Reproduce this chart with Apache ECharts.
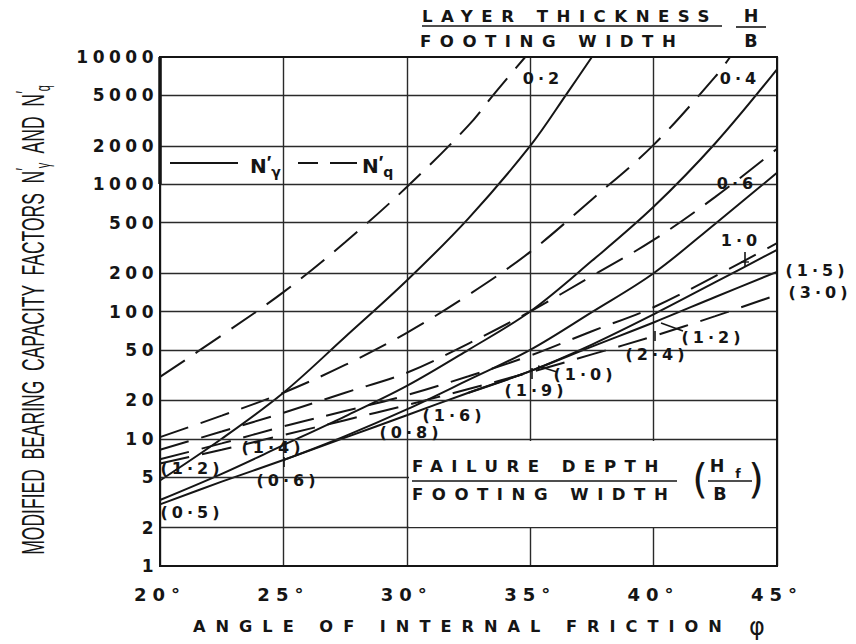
<!DOCTYPE html>
<html><head><meta charset="utf-8">
<script src="https://cdn.jsdelivr.net/npm/echarts@6/dist/echarts.min.js"></script>
<style>
html,body{margin:0;padding:0;background:#fff;}
#c{width:856px;height:644px;}
#c [style*="17px"]{letter-spacing:4.5px;}
#c [style*="18px"]{letter-spacing:6px;}
#c [style*="16px"]{letter-spacing:4px;}
#c [style*="16.2px"]{letter-spacing:10px;}
#c [style*="16.6px"]{letter-spacing:8.5px;}
</style></head>
<body><div id="c"></div>
<script>
// ---- data ----
const angleTicks = [20, 25, 30, 35, 40, 45];
const factorTicks = [1, 2, 5, 10, 20, 50, 100, 200, 500, 1000, 2000, 5000, 10000];

// N'gamma (solid), [angle, factor]
const nGamma_02 = [[20,4.7],[22.5,10],[25,23],[27.5,63],[30,175],[32.5,540],[35,2000],[36.5,5200],[37.5,10000]];
const nGamma_04 = [[20,3.3],[22.5,5.3],[25,8.9],[27.5,15],[30,26],[32.5,50],[35,100],[37.5,250],[40,665],[42.5,2100],[45,8000]];
const nGamma_06 = [[25,6.8],[27.5,10.5],[30,17],[32.5,29],[35,50],[37.5,99],[40,200],[42.5,490],[45,1230]];
const nGamma_10 = [[32.5,23],[35,34],[37.5,55],[40,95],[42.5,170],[45,305]];
const nGamma_hom = [[20,3.05],[22.5,4.6],[25,6.8],[27.5,10.2],[30,15.3],[32.5,23],[35,34],[37.5,53],[40,82],[42.5,130],[45,205]];
// N'q (dashed)
const nq_02 = [[20,30.6],[22.5,65],[25,142],[27.5,350],[30,950],[32.5,2900],[33.6,5300],[34.8,10000]];
const nq_04 = [[20,10.3],[22.5,15.2],[25,23],[27.5,38],[30,68],[32.5,135],[35,294],[37.5,760],[40,2040],[42.5,7000],[43.1,10000]];
const nq_06 = [[20,8.2],[22.5,11.4],[25,16],[27.5,23],[30,33],[32.5,56],[35,100],[37.5,190],[40,365],[42.5,795],[45,1900]];
const nq_10 = [[20,6.9],[22.5,9.2],[25,12.5],[27.5,16.5],[30,22],[32.5,31],[35,45],[37.5,70],[40,108],[42.5,190],[45,344]];
const nq_hom = [[20,6.4],[22.5,8.2],[25,10.7],[27.5,14],[30,18.4],[32.5,24.6],[35,33.3],[37.5,46],[40,64],[42.5,92],[45,135]];

const INK = '#151515';
const chart = echarts.init(document.getElementById('c'), null, {renderer: 'svg'});

function curve(name, data, dashed) {
  return {type: 'line', name, data, smooth: 0.35, symbol: 'none', silent: true,
    lineStyle: {color: INK, width: 2, type: dashed ? [30, 13] : 'solid'}, z: 3};
}
function T(x, y, text, size, extra) {
  return {type: 'text', x, y, z: 102, silent: true,
    style: Object.assign({text, fontSize: size, fontWeight: 'bold', fontFamily: 'DejaVu Sans', fill: INK,
      align: 'center', verticalAlign: 'middle', textAlign: 'center', textVerticalAlign: 'middle'}, extra || {})};
}
function L(x1, y1, x2, y2, w) {
  return {type: 'line', z: 102, silent: true, shape: {x1, y1, x2, y2},
    style: {stroke: INK, lineWidth: w || 2}};
}
const left = {align: 'left', textAlign: 'left'};
const legendRich = {
  n: {fontSize: 20, fontWeight: 'bold', fontFamily: 'DejaVu Sans', fill: INK, lineHeight: 26},
  p: {fontSize: 19, fontWeight: 'bold', fontFamily: 'Liberation Sans', fill: INK, verticalAlign: 'top', lineHeight: 26},
  s: {fontSize: 14, fontWeight: 'bold', fontFamily: 'DejaVu Sans', fill: INK, verticalAlign: 'bottom', lineHeight: 26}
};

const graphics = [
  // failure depth box (white)
  {type: 'rect', z: 100, silent: true, shape: {x: 409, y: 441, width: 367, height: 86}, style: {fill: '#fff', stroke: null}},
  // frame
  {type: 'rect', z: 101, silent: true, shape: {x: 160, y: 57, width: 617, height: 509}, style: {fill: null, stroke: INK, lineWidth: 2}},
  L(160, 57, 160, 184, 3.5),
  // header
  T(422, 16, 'LAYER THICKNESS', 16.6, left),
  T(420, 41, 'FOOTING WIDTH', 16.6, left),
  L(422, 26, 722, 26, 1.6),
  T(751, 16, 'H', 17.5),
  L(736, 27, 766, 27, 1.6),
  T(751, 41, 'B', 17.5),
  // legend
  L(170, 163, 238, 163, 2),
  {type: 'text', x: 250, y: 166, z: 102, silent: true,
    style: {text: '{n|N}{p|′}{s|γ}', rich: legendRich, fill: INK, align: 'left', textAlign: 'left', verticalAlign: 'middle', textVerticalAlign: 'middle'}},
  L(298, 163, 318, 163, 2),
  L(330, 163, 357, 163, 2),
  {type: 'text', x: 362, y: 166, z: 102, silent: true,
    style: {text: '{n|N}{p|′}{s|q}', rich: legendRich, fill: INK, align: 'left', textAlign: 'left', verticalAlign: 'middle', textVerticalAlign: 'middle'}},
  // curve labels
  T(543, 78, '0·2', 16),
  T(740, 78, '0·4', 16),
  T(737, 183, '0·6', 16),
  T(741, 240, '1·0', 16),
  L(745, 252, 745, 266, 1.6), L(741, 262, 749, 262, 1.4),
  T(817, 270, '(1·5)', 16),
  T(820, 292, '(3·0)', 16),
  T(713, 337, '(1·2)', 16),
  L(661, 323, 683, 331, 1.4),
  T(657, 354, '(2·4)', 16),
  L(655, 331, 655, 341, 1.6),
  T(585, 374, '(1·0)', 16),
  L(538, 366, 557, 372, 1.4),
  T(536, 390, '(1·9)', 16),
  L(532, 368, 532, 379, 1.6),
  T(454, 415, '(1·6)', 16),
  T(411, 432, '(0·8)', 16),
  T(273, 447, '(1·4)', 16),
  T(288, 480, '(0·6)', 16),
  L(284, 457, 284, 467, 1.6),
  T(192, 468, '(1·2)', 16),
  T(192, 512, '(0·5)', 16),
  // failure depth text
  T(412, 466, 'FAILURE DEPTH', 16.6, left),
  L(412, 481, 677, 481, 1.6),
  T(412, 494, 'FOOTING WIDTH', 16.6, left),
  T(700, 479, '(', 40, {fontWeight: 'normal'}),
  T(756, 479, ')', 40, {fontWeight: 'normal'}),
  T(717, 466, 'H', 17.5),
  T(738, 473, 'f', 12.5),
  L(708, 481, 752, 481, 1.6),
  T(720, 494, 'B', 17.5),
  // axis titles
  T(193, 626, 'ANGLE OF INTERNAL FRICTION', 16.2, left),
  T(757, 627, 'φ', 24, {fontWeight: 'normal'}),
  {type: 'text', x: 33, y: 320, rotation: Math.PI / 2, scaleY: 1.8, z: 102, silent: true,
    style: {text: '{t|MODIFIED  BEARING  CAPACITY  FACTORS  N}{p|′}{s|γ}{t|  AND  N}{p|′}{s|q}',
      align: 'center', verticalAlign: 'middle', textAlign: 'center', textVerticalAlign: 'middle', fill: INK,
      rich: {
        t: {fontSize: 17.5, fontFamily: 'Liberation Sans', fill: INK, lineHeight: 22},
        p: {fontSize: 13, fontFamily: 'Liberation Sans', fill: INK, verticalAlign: 'top', lineHeight: 22},
        s: {fontSize: 11, fontFamily: 'Liberation Sans', fill: INK, verticalAlign: 'bottom', lineHeight: 22}
      }}}
];

const option = {
  animation: false,
  backgroundColor: '#fff',
  grid: {left: 160, top: 57, right: 79, bottom: 78},
  xAxis: {type: 'value', min: 20, max: 45, interval: 5,
    axisLine: {lineStyle: {color: INK, width: 2}}, axisTick: {show: false},
    axisLabel: {formatter: '{value}°', fontSize: 18, fontWeight: 'bold', fontFamily: 'DejaVu Sans', color: INK, margin: 19},
    splitLine: {show: true, lineStyle: {color: '#2a2a2a', width: 1.4}}},
  yAxis: {type: 'log', logBase: 10, min: 1, max: 10000,
    axisLine: {show: true, lineStyle: {color: INK, width: 2}},
    axisTick: {show: false, customValues: factorTicks},
    axisLabel: {customValues: factorTicks, formatter: v => String(Math.round(v)),
      fontSize: 17, fontWeight: 'bold', fontFamily: 'DejaVu Sans', color: INK, margin: 2},
    splitLine: {show: false}},
  series: [
    {type: 'line', data: [[20, 1]], symbol: 'none', silent: true, lineStyle: {opacity: 0}, z: 1,
      markLine: {silent: true, symbol: 'none', label: {show: false},
        lineStyle: {color: '#2a2a2a', width: 1.4, type: 'solid'},
        data: factorTicks.slice(1, -1).map(v => ({yAxis: v}))}},
    curve('Nγ 0.2', nGamma_02, false),
    curve('Nγ 0.4', nGamma_04, false),
    curve('Nγ 0.6', nGamma_06, false),
    curve('Nγ 1.0', nGamma_10, false),
    curve('Nγ hom', nGamma_hom, false),
    curve('Nq 0.2', nq_02, true),
    curve('Nq 0.4', nq_04, true),
    curve('Nq 0.6', nq_06, true),
    curve('Nq 1.0', nq_10, true),
    curve('Nq hom', nq_hom, true)
  ],
  graphic: {elements: graphics}
};
chart.setOption(option);
</script>
</body></html>
